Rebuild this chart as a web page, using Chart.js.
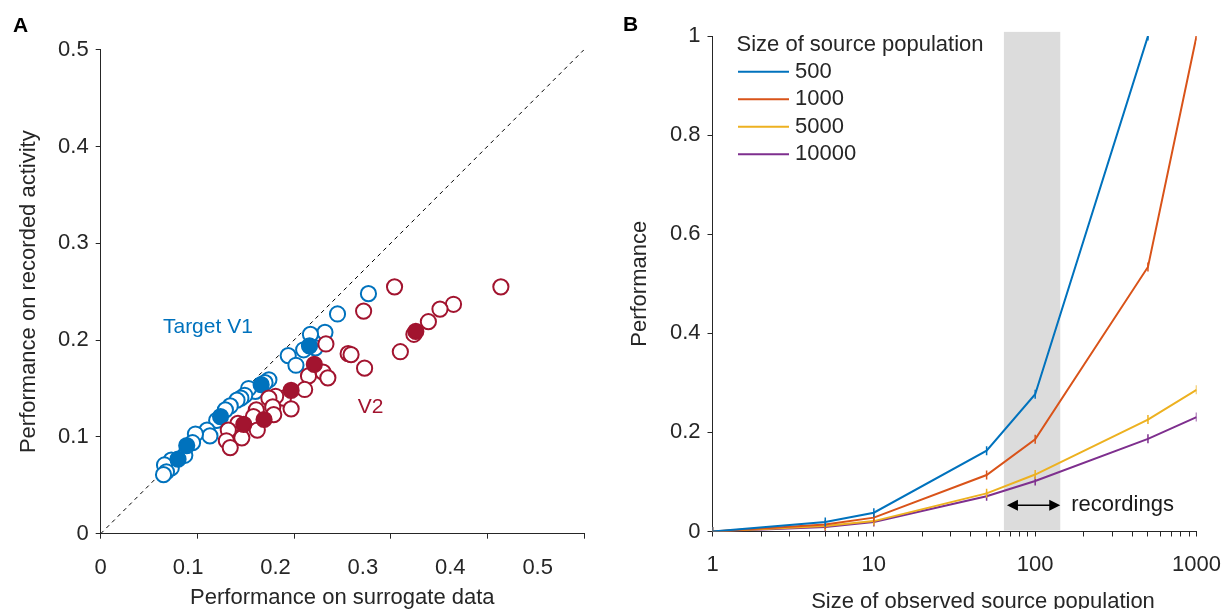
<!DOCTYPE html>
<html>
<head>
<meta charset="utf-8">
<script src="https://cdn.jsdelivr.net/npm/chart.js@4.4.1/dist/chart.umd.min.js"></script>
<style>
  html, body { margin: 0; padding: 0; background: #fff; overflow: hidden; }
  #wrapA { position: absolute; left: 0; top: 0; width: 612px; height: 609px; }
  #wrapB { position: absolute; left: 612px; top: 0; width: 618px; height: 609px; overflow: hidden; }
</style>
</head>
<body>
<div id="wrapA"><canvas id="chartA" width="612" height="609"></canvas></div>
<div id="wrapB"><canvas id="chartB" width="624" height="609"></canvas></div>
<script>
// ---- panel A data: [surrogate, recorded] ----
var v1Open = [[0.277, 0.248], [0.245, 0.227], [0.232, 0.208], [0.217, 0.206], [0.222, 0.192],
  [0.210, 0.190], [0.194, 0.184], [0.202, 0.174], [0.174, 0.159], [0.170, 0.156], [0.160, 0.147],
  [0.153, 0.150], [0.149, 0.143], [0.145, 0.140], [0.141, 0.138], [0.134, 0.132], [0.129, 0.128],
  [0.120, 0.117], [0.110, 0.107], [0.113, 0.101], [0.098, 0.103], [0.095, 0.094], [0.087, 0.081],
  [0.073, 0.076], [0.073, 0.068], [0.066, 0.071], [0.068, 0.064], [0.065, 0.061]];
var v1Filled = [[0.216, 0.194], [0.166, 0.154], [0.124, 0.121], [0.089, 0.091], [0.080, 0.077]];
var v2Open = [[0.304, 0.255], [0.414, 0.255], [0.272, 0.230], [0.365, 0.237], [0.351, 0.232],
  [0.339, 0.219], [0.324, 0.206], [0.310, 0.188], [0.256, 0.186], [0.259, 0.185], [0.273, 0.171],
  [0.233, 0.196], [0.230, 0.167], [0.235, 0.161], [0.215, 0.163], [0.211, 0.149], [0.189, 0.140],
  [0.181, 0.142], [0.174, 0.140], [0.197, 0.129], [0.178, 0.131], [0.179, 0.123], [0.161, 0.128],
  [0.158, 0.121], [0.162, 0.107], [0.142, 0.114], [0.146, 0.099], [0.132, 0.107], [0.130, 0.096],
  [0.134, 0.089]];
var v2Filled = [[0.326, 0.209], [0.221, 0.175], [0.197, 0.148], [0.169, 0.118], [0.148, 0.113]];
var identityLine = [[0, 0], [0.5, 0.5]];
var ticksA = [0, 0.1, 0.2, 0.3, 0.4, 0.5];
var groupNames = ["Target V1", "V2"];

// ---- panel B data ----
var observedSizes = [1, 5, 10, 50, 100, 500, 1000];
var sourceSizes = ["500", "1000", "5000", "10000"];
var perf500 = [0, 0.019, 0.038, 0.163, 0.277, 1.0, null];
var perf1000 = [0, 0.014, 0.028, 0.114, 0.186, 0.534, 1.0];
var perf5000 = [0, 0.011, 0.021, 0.077, 0.115, 0.226, 0.286];
var perf10000 = [0, 0.009, 0.019, 0.071, 0.102, 0.187, 0.231];
var ticksBx = [1, 10, 100, 1000];
var recordingsRange = [64, 143];

var textColor = "#262626";
var fontFamily = "'Liberation Sans', Arial, sans-serif";
var blue = "#0072BD", red = "#A2142F";
var lineColors = ["#0072BD", "#D95319", "#EDB120", "#7E2F8E"];

Chart.defaults.font.family = fontFamily;
Chart.defaults.font.size = 22;
Chart.defaults.color = textColor;

function toXY(pairs) {
  return pairs.map(function(p) { return {x: p[0], y: p[1]}; });
}
function fixWidth(w) { return function(scale) { scale.width = w; }; }
function fixHeight(h) { return function(scale) { scale.height = h; }; }
function setTicks(values) {
  return function(scale) { scale.ticks = values.map(function(v) { return {value: v}; }); };
}
function logTicks(scale) {
  var t = [];
  for (var d = 1; d < 1000; d *= 10) {
    for (var k = 1; k < 10; k++) t.push({value: k * d, major: k === 1});
  }
  t.push({value: 1000, major: true});
  scale.ticks = t;
}

var annotateA = {
  id: "annotateA",
  afterDraw: function(chart) {
    var ctx = chart.ctx, xs = chart.scales.x, ys = chart.scales.y;
    ctx.save();
    ctx.textBaseline = "middle";
    ctx.textAlign = "left";
    ctx.font = "bold 21px " + fontFamily;
    ctx.fillStyle = "#000";
    ctx.fillText("A", 13, 26);
    ctx.font = "21px " + fontFamily;
    ctx.fillStyle = blue;
    ctx.fillText(groupNames[0], xs.getPixelForValue(0.0644), ys.getPixelForValue(0.213));
    ctx.fillStyle = red;
    ctx.fillText(groupNames[1], xs.getPixelForValue(0.266), ys.getPixelForValue(0.131));
    ctx.restore();
  }
};

new Chart(document.getElementById("chartA"), {
  type: "scatter",
  data: {
    datasets: [
      {label: "V2 filled", data: toXY(v2Filled), backgroundColor: red, borderColor: red, order: 1},
      {label: "V2", data: toXY(v2Open), backgroundColor: "#fff", borderColor: red, order: 2},
      {label: "V1 filled", data: toXY(v1Filled), backgroundColor: blue, borderColor: blue, order: 3},
      {label: "Target V1", data: toXY(v1Open), backgroundColor: "#fff", borderColor: blue, order: 4},
      {type: "line", label: "identity", data: toXY(identityLine), borderColor: "#000", borderWidth: 1,
       borderDash: [4, 4], pointRadius: 0, order: 5}
    ]
  },
  options: {
    responsive: false,
    animation: false,
    events: [],
    layout: {padding: {left: 0, right: 28, top: 49.7, bottom: 0}},
    elements: {point: {radius: 7.6, borderWidth: 2, hoverRadius: 7.6}},
    plugins: {legend: {display: false}, tooltip: {enabled: false}},
    scales: {
      x: {
        type: "linear", position: "bottom", min: 0, max: 0.5, weight: 0,
        afterBuildTicks: setTicks(ticksA), afterFit: fixHeight(7),
        ticks: {display: false},
        grid: {drawOnChartArea: false, tickLength: 5, color: textColor},
        border: {color: textColor}
      },
      xLabels: {
        type: "linear", position: "bottom", min: 0, max: 0.553, weight: 1,
        afterBuildTicks: setTicks(ticksA), afterFit: fixHeight(68.3),
        ticks: {padding: 6, autoSkip: false, maxRotation: 0},
        grid: {display: false}, border: {display: false},
        title: {display: true, text: "Performance on surrogate data", padding: {top: 0, bottom: -2}}
      },
      y: {
        min: 0, max: 0.5,
        afterBuildTicks: setTicks(ticksA), afterFit: fixWidth(100.7),
        ticks: {padding: 7},
        grid: {drawOnChartArea: false, tickLength: 5, color: textColor},
        border: {color: textColor},
        title: {display: true, text: "Performance on recorded activity", padding: {top: 16, bottom: 0}}
      }
    }
  },
  plugins: [annotateA]
});

var annotateB = {
  id: "annotateB",
  beforeDatasetsDraw: function(chart) {
    var ctx = chart.ctx, xs = chart.scales.x, ys = chart.scales.y;
    var left = xs.getPixelForValue(recordingsRange[0]);
    var right = xs.getPixelForValue(recordingsRange[1]);
    var top = ys.getPixelForValue(1.0085);
    ctx.save();
    ctx.fillStyle = "#dcdcdc";
    ctx.fillRect(left, top, right - left, ys.getPixelForValue(0) - 1 - top);
    ctx.restore();
  },
  afterDraw: function(chart) {
    var ctx = chart.ctx, xs = chart.scales.x, ys = chart.scales.y, area = chart.chartArea;
    var left = xs.getPixelForValue(recordingsRange[0]) + 3;
    var right = xs.getPixelForValue(recordingsRange[1]);
    var ay = ys.getPixelForValue(0.053);
    ctx.save();
    // double arrow
    ctx.strokeStyle = "#000";
    ctx.fillStyle = "#000";
    ctx.lineWidth = 1.5;
    ctx.beginPath();
    ctx.moveTo(left + 8, ay);
    ctx.lineTo(right - 8, ay);
    ctx.stroke();
    [[left, 1], [right, -1]].forEach(function(h) {
      ctx.beginPath();
      ctx.moveTo(h[0], ay);
      ctx.lineTo(h[0] + h[1] * 11, ay - 5.5);
      ctx.lineTo(h[0] + h[1] * 11, ay + 5.5);
      ctx.closePath();
      ctx.fill();
    });
    ctx.textBaseline = "middle";
    ctx.textAlign = "left";
    ctx.font = "22px " + fontFamily;
    ctx.fillStyle = "#1a1a1a";
    ctx.fillText("recordings", right + 11, ay);

    // legend
    ctx.fillStyle = textColor;
    ctx.fillText("Size of source population", area.left + 24, area.top + 8.6);
    sourceSizes.forEach(function(s, i) {
      var ly = area.top + 35.7 + i * 27.5;
      ctx.strokeStyle = lineColors[i];
      ctx.lineWidth = 2;
      ctx.beginPath();
      ctx.moveTo(area.left + 25.5, ly);
      ctx.lineTo(area.left + 76.5, ly);
      ctx.stroke();
      ctx.fillText(s, area.left + 82.5, ly);
    });

    // x title (sits right of centre in the reference)
    ctx.textAlign = "center";
    ctx.fillText("Size of observed source population", (area.left + area.right) / 2 + 28.5, 602.4);

    ctx.font = "bold 21px " + fontFamily;
    ctx.textAlign = "left";
    ctx.fillStyle = "#000";
    ctx.fillText("B", 11, 25.5);
    ctx.restore();
  }
};

var perfBySource = [perf500, perf1000, perf5000, perf10000];

function setupLineData() {
  var datasets = [];
  for (var i = 0; i < sourceSizes.length; i++) {
    var pts = [];
    for (var j = 0; j < observedSizes.length; j++) {
      if (perfBySource[i][j] !== null) pts.push({x: observedSizes[j], y: perfBySource[i][j]});
    }
    datasets.push({
      label: sourceSizes[i],
      data: pts,
      borderColor: lineColors[i],
      backgroundColor: lineColors[i],
      borderWidth: 2,
      pointStyle: "line",
      pointRotation: 90,
      pointRadius: 4.5,
      pointBorderWidth: 1.5,
      fill: false,
      tension: 0
    });
  }
  return datasets;
}

new Chart(document.getElementById("chartB"), {
  type: "line",
  data: {datasets: setupLineData()},
  options: {
    responsive: false,
    animation: false,
    events: [],
    layout: {padding: {left: 0, right: 0, top: 36.1, bottom: 0}},
    plugins: {legend: {display: false}, tooltip: {enabled: false}},
    scales: {
      x: {
        type: "logarithmic", min: 1, max: 1000,
        afterBuildTicks: logTicks, afterFit: fixHeight(77.5),
        ticks: {
          padding: 15, autoSkip: false, maxRotation: 0,
          callback: function(v) { return ticksBx.indexOf(v) >= 0 ? String(v) : ""; }
        },
        grid: {drawOnChartArea: false, tickLength: 5, color: textColor},
        border: {color: textColor}
      },
      y: {
        min: 0, max: 1,
        afterFit: fixWidth(100.5),
        ticks: {stepSize: 0.2, padding: 7, callback: function(v) { return String(+v.toFixed(1)); }},
        grid: {drawOnChartArea: false, tickLength: 5, color: textColor},
        border: {color: textColor},
        title: {display: true, text: "Performance", padding: {top: 14.5, bottom: 0}}
      }
    }
  },
  plugins: [annotateB]
});
</script>
</body>
</html>
